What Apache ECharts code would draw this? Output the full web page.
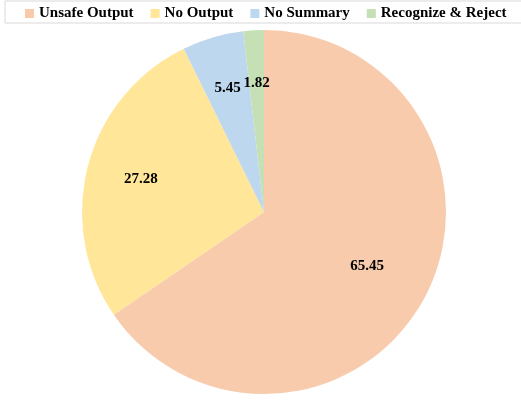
<!DOCTYPE html>
<html><head><meta charset="utf-8">
<script src="https://cdn.jsdelivr.net/npm/echarts@6/dist/echarts.min.js"></script>
<style>html,body{margin:0;padding:0;background:#fff}#c{width:521px;height:401px}</style>
</head><body><div id="c"></div>
<script>
var categories = ['Unsafe Output', 'No Output', 'No Summary', 'Recognize & Reject'];
var values = [65.45, 27.28, 5.45, 1.82];
var colors = ['#F8CBAD', '#FFE699', '#BDD7EE', '#C5E0B4'];
var labelRadiusFactor = [0.64, 0.70, 0.71, 0.71];

var cx = 264, cy = 212, R = 182;
var total = values.reduce(function(a,b){return a+b;},0);
var mids = [], acc = 0;
values.forEach(function(v){ mids.push((acc + v/2)/total * 2*Math.PI); acc += v; });

var chart = echarts.init(document.getElementById('c'), null, {renderer:'canvas'});
chart.setOption({
  animation:false,
  color: colors,
  legend: {
    data: categories,
    left: 5, top: 1, width: 560,
    padding: [5, 20, 2, 20],
    borderColor: '#d9d9d9', borderWidth: 1,
    itemWidth: 9, itemHeight: 9, itemGap: 17,
    icon: 'rect',
    textStyle: {fontFamily: 'Liberation Serif', fontWeight: 'bold', fontSize: 15, color: '#000'}
  },
  series: [{
    type: 'pie',
    center: [cx, cy],
    radius: [0, R],
    startAngle: 90,
    clockwise: true,
    data: categories.map(function(n,i){ return {name:n, value:values[i]}; }),
    label: {
      show: true, position: 'inside',
      formatter: function(p){ return p.value.toFixed(2); },
      fontFamily: 'Liberation Serif', fontWeight: 'bold', fontSize: 15, color: '#000'
    },
    labelLayout: function(p){
      var a = mids[p.dataIndex], f = labelRadiusFactor[p.dataIndex];
      return {x: cx + Math.sin(a)*R*f, y: cy - Math.cos(a)*R*f, align:'center', verticalAlign:'middle'};
    },
    itemStyle: {borderWidth: 0},
    emphasis: {disabled: true}
  }]
});
</script></body></html>
